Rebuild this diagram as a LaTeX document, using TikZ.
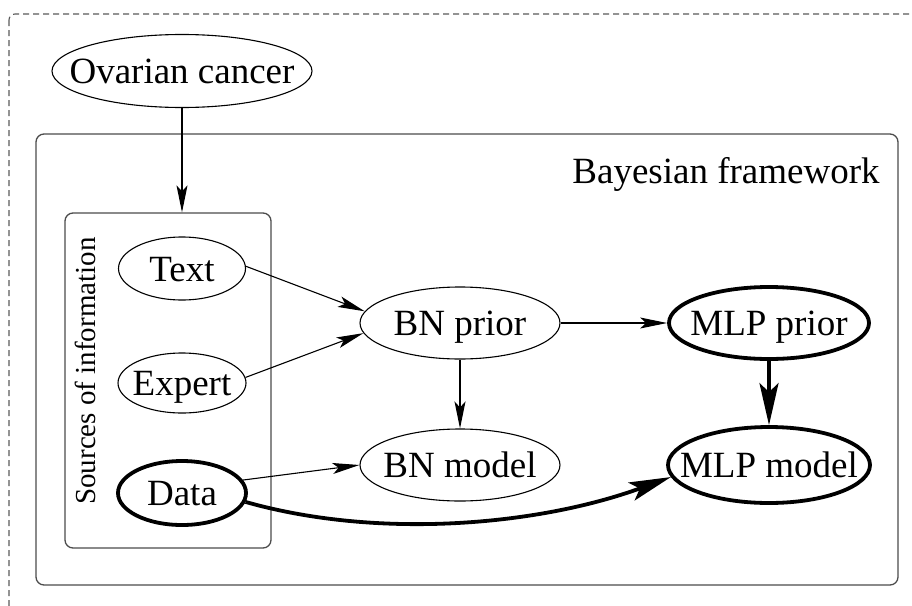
\documentclass[tikz,border=0pt]{standalone}
\usepackage{fontspec}
\setmainfont{Liberation Serif}
\newfontfamily\timesfont{Liberation Serif}
\usetikzlibrary{shapes.geometric,arrows.meta}
\tikzset{
  oval/.style={ellipse, draw, line width=1.1pt, inner xsep=-90pt, inner ysep=0pt,
    font=\timesfont\fontsize{37}{44}\selectfont, text height=25pt, text depth=0pt},
  boldoval/.style={oval, line width=3.8pt},
  box/.style={draw=black!70, line width=1.3pt, rounded corners=8pt, inner sep=0pt},
  thin/.style={line width=1.1pt, -{Stealth[length=27pt, width=11pt, inset=6pt]}},
  thick/.style={line width=3.8pt, -{Stealth[length=42pt, width=19pt, inset=9pt]}},
  lbl/.style={font=\timesfont\fontsize{37}{44}\selectfont, anchor=base, inner sep=0pt},
}
\begin{document}
\begin{tikzpicture}[x=1pt, y=-1pt]
\useasboundingbox (0,0) rectangle (912,605);
\clip (0,0) rectangle (912,605);
% outer dashed frame
\draw[black!65, line width=1.1pt, dash pattern=on 6pt off 4pt, rounded corners=6pt]
  (9,14) rectangle (960,660);
% Bayesian framework box
\node[box, minimum width=862pt, minimum height=451pt] (bay) at (467,359.5) {};
\node[lbl] (bayl) at (726,183) {Bayesian framework};
% Sources box
\node[box, minimum width=206pt, minimum height=335pt] (src) at (168,380.5) {};
\node[lbl, rotate=90, font=\timesfont\fontsize{29}{34}\selectfont] (srcl) at (95,371) {Sources of information};
% nodes
\node[oval, minimum width=260pt, minimum height=73pt] (ov) at (182,71) {Ovarian cancer};
\node[oval, minimum width=127pt, minimum height=63pt] (text) at (182,268.5) {Text};
\node[oval, minimum width=128pt, minimum height=60pt] (expert) at (182,383) {Expert};
\node[boldoval, minimum width=128pt, minimum height=64pt] (data) at (182,493) {Data};
\node[oval, minimum width=200pt, minimum height=72pt] (bnp) at (460,323) {BN prior};
\node[oval, minimum width=200pt, minimum height=72pt] (bnm) at (460,465) {BN model};
\node[boldoval, minimum width=200pt, minimum height=72pt] (mlpp) at (769,323) {MLP prior};
\node[boldoval, minimum width=202pt, minimum height=76pt] (mlpm) at (769,465) {MLP model};
% edges
\draw[thin] (ov.south) -- (ov.south |- src.north);
\draw[thin] (text.2) -- (bnp.173.5);
\draw[thin] (expert.5) -- (bnp.186.5);
\draw[thin] (bnp.east) -- (mlpp.west);
\draw[thin] (bnp.south) -- (bnm.north);
\draw[thin] (data.12) -- (bnm.west);
\draw[thick] (mlpp.south) -- (mlpm.north);
\draw[thick] (data.-8) .. controls (380,540) and (540,525) .. (mlpm.187);
\end{tikzpicture}
\end{document}
